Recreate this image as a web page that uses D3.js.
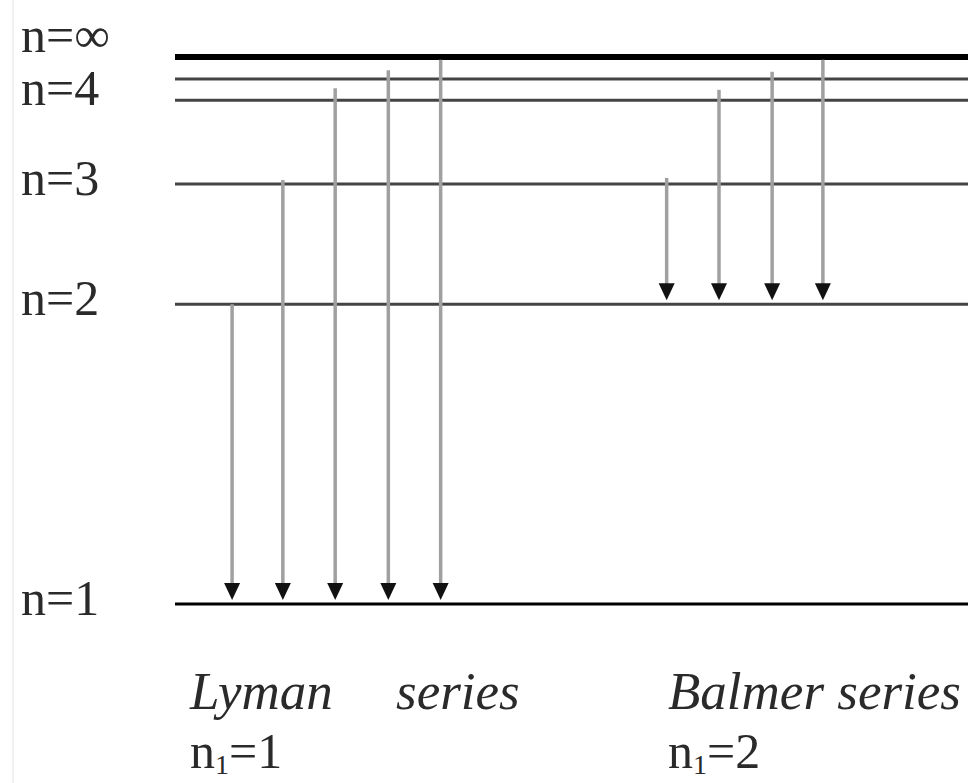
<!DOCTYPE html>
<html>
<head>
<meta charset="utf-8">
<script src="https://cdn.jsdelivr.net/npm/d3@7"></script>
<style>
body { margin: 0; background: #fff; }
text { font-family: "Liberation Serif", "DejaVu Serif", serif; fill: #2a2a2a; }
</style>
</head>
<body>
<svg id="svg" width="971" height="783"></svg>
<script>
// energy levels, height in arbitrary units (n=1 -> 0, n=inf -> 100)
var levelNames = ["n=1", "n=2", "n=3", "n=4", "n=5", "n=\u221e"];
var levelPos = [0, 54.8, 76.8, 92.1, 96.0, 100];
var levelShown = [true, true, true, true, false, true];

// Lyman series: down to n=1
var lymanTop = [54.8, 77.5, 94.3, 97.6, 99.5];
var lymanCol = [7.2, 13.6, 20.2, 26.9, 33.5];

// Balmer series: down to n=2
var balmerTop = [77.9, 94.0, 97.3, 99.5];
var balmerCol = [62.0, 68.6, 75.3, 81.7];

var svg = d3.select("#svg");

var x = d3.scaleLinear().domain([0, 100]).range([175, 968]);
var y = d3.scaleLinear().domain([0, 100]).range([604, 57]);

// faint frame line at left
svg.append("line")
    .attr("x1", 13).attr("x2", 13).attr("y1", 0).attr("y2", 783)
    .attr("stroke", "#f0f0f0").attr("stroke-width", 2);

var levels = levelNames.map(function(d, i) {
    return {name: d, pos: levelPos[i], shown: levelShown[i], idx: i};
});

svg.append("g").selectAll("line")
    .data(levels)
    .enter().append("line")
    .attr("x1", x(0))
    .attr("x2", x(100))
    .attr("y1", function(d) { return y(d.pos); })
    .attr("y2", function(d) { return y(d.pos); })
    .attr("stroke", function(d) { return (d.idx == 0 || d.idx == 5) ? "#000" : "#444"; })
    .attr("stroke-width", function(d) { return d.idx == 5 ? 6 : 3; });

svg.append("g").selectAll("text")
    .data(levels.filter(function(d) { return d.shown; }))
    .enter().append("text")
    .attr("x", 21)
    .attr("y", function(d) {
        if (d.idx == 5) return y(d.pos) - 5;
        if (d.idx == 3) return y(d.pos) + 5;
        return y(d.pos) + 11;
    })
    .attr("font-size", "50px")
    .text(function(d) { return d.name; });

function arrows(tops, cols, bottom, cls) {
    var data = tops.map(function(t, i) { return {top: t, col: cols[i]}; });
    var g = svg.append("g").attr("class", cls);
    g.selectAll("line")
        .data(data)
        .enter().append("line")
        .attr("x1", function(d) { return x(d.col); })
        .attr("x2", function(d) { return x(d.col); })
        .attr("y1", function(d) { return y(d.top); })
        .attr("y2", y(bottom) - 18)
        .attr("stroke", "#a0a0a0")
        .attr("stroke-width", 3.5);
    g.selectAll("path")
        .data(data)
        .enter().append("path")
        .attr("d", function(d) {
            var cx = x(d.col), tip = y(bottom) - 4;
            return "M" + (cx - 8) + "," + (tip - 17) + "L" + (cx + 8) + "," + (tip - 17) + "L" + cx + "," + tip + "Z";
        })
        .attr("fill", "#111");
}

arrows(lymanTop, lymanCol, levelPos[0], "lyman");
arrows(balmerTop, balmerCol, levelPos[1], "balmer");

// series captions
var captions = [
    {x: 190, text: "Lyman"},
    {x: 396, text: "series"},
    {x: 668, text: "Balmer series"}
];
svg.append("g").selectAll("text")
    .data(captions)
    .enter().append("text")
    .attr("x", function(d) { return d.x; })
    .attr("y", 709)
    .attr("font-size", "53px")
    .attr("font-style", "italic")
    .text(function(d) { return d.text; });

var sub = [{x: 190, v: "1"}, {x: 668, v: "2"}];
var st = svg.append("g").selectAll("text")
    .data(sub)
    .enter().append("text")
    .attr("x", function(d) { return d.x; })
    .attr("y", 768)
    .attr("font-size", "50px");
st.append("tspan").text("n");
st.append("tspan").attr("font-size", "28px").attr("dy", 6).text("1");
st.append("tspan").attr("dy", -6).text(function(d) { return "=" + d.v; });
</script>
</body>
</html>
